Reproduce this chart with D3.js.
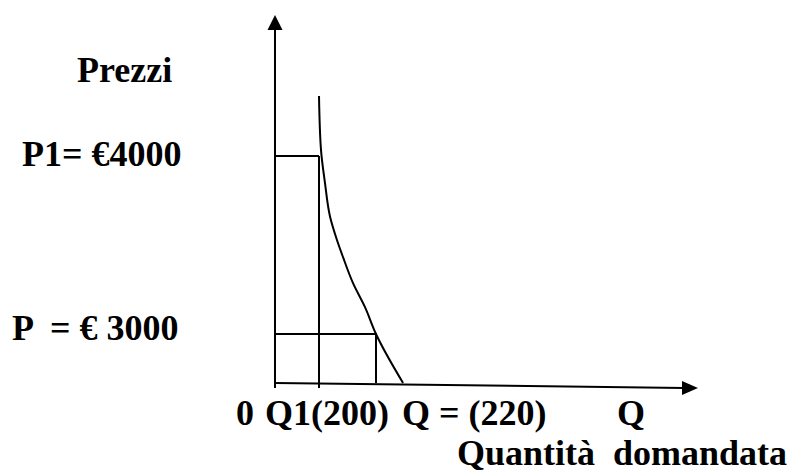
<!DOCTYPE html>
<html>
<head>
<meta charset="utf-8">
<script src="https://cdn.jsdelivr.net/npm/d3@7"></script>
<style>
  body { margin: 0; background: #fff; }
  text { font-family: "Liberation Serif", "Times New Roman", serif; font-weight: bold; font-size: 36px; fill: #000; white-space: pre; }
</style>
</head>
<body>
<div class="canvas"></div>
<script>
// data
const quantities = [0, 200, 220];          // 0, Q1, Q
const prices = [0, 3000, 4000];            // 0, P, P1
const qLabels = ["0", "Q1(200)", "Q = (220)", "Q"];
const pLabels = ["P1= €4000", "P  = € 3000"];
// demand curve (quantity, price)
const demandQ = [200, 200.7, 202.1, 203.9, 206.3, 208.4, 211.9, 216.1, 220, 229.5];
const demandP = [4337, 4034, 3848, 3657, 3528, 3433, 3287, 3152, 3000, 0];

const dims = { width: 803, height: 472 };

const svg = d3.select(".canvas")
  .append("svg")
  .attr("width", dims.width)
  .attr("height", dims.height);

// piecewise scales, the sketch is not to scale
const x = d3.scaleLinear().domain(quantities).range([275, 319, 376]);
const y = d3.scaleLinear().domain(prices).range([383, 334, 156]);

const line = (pts) => svg.append("path")
  .attr("d", d3.line()(pts))
  .attr("fill", "none")
  .attr("stroke", "#000")
  .attr("stroke-width", 2);

// axes
line([[x(0), 28], [x(0), y(0) + 5]]);
svg.append("path")
  .attr("d", d3.line()([[x(0), 15], [x(0) - 7.5, 30], [x(0) + 7.5, 30]]) + "Z")
  .attr("fill", "#000");
line([[x(0), y(0)], [684, y(0) + 5]]);
svg.append("path")
  .attr("d", d3.line()([[698, y(0) + 5], [682, y(0) - 2], [682, y(0) + 12]]) + "Z")
  .attr("fill", "#000");

// guide lines
line([[x(0), y(4000)], [x(200), y(4000)]]);
line([[x(200), y(4000)], [x(200), y(0) + 5]]);
line([[x(0), y(3000)], [x(220), y(3000)], [x(220), y(0)]]);

// demand curve
svg.append("path")
  .attr("d", d3.line()
    .x((d, i) => x(demandQ[i]))
    .y((d) => y(d))
    .curve(d3.curveMonotoneY)(demandP))
  .attr("fill", "none")
  .attr("stroke", "#000")
  .attr("stroke-width", 2);

// labels
svg.append("text").attr("x", 77).attr("y", 82).text("Prezzi");
svg.append("text").attr("x", 22).attr("y", 166).text(pLabels[0]);
svg.append("text").attr("x", 12).attr("y", 340).text(pLabels[1]);

const qLabelX = [236, 265, 402, 617];
svg.selectAll(".qlab")
  .data(qLabels)
  .enter()
  .append("text")
  .attr("class", "qlab")
  .attr("x", (d, i) => qLabelX[i])
  .attr("y", 425)
  .text((d) => d);

svg.append("text").attr("x", 457).attr("y", 465).text("Quantità  domandata");
</script>
</body>
</html>
